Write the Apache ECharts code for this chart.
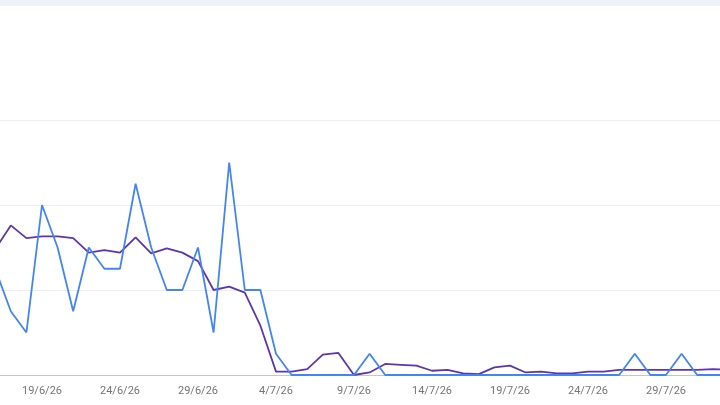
<!DOCTYPE html>
<html>
<head>
<meta charset="utf-8">
<script src="https://cdn.jsdelivr.net/npm/echarts@6/dist/echarts.min.js"></script>
<style>
  html, body { margin: 0; padding: 0; background: #fff; }
  #chart { width: 720px; height: 405px; }
</style>
</head>
<body>
<div id="chart"></div>
<script>
// days shown (16/6/26 .. 2/8/26), partly cut at both edges
var days = [
  '16/6/26','17/6/26','18/6/26','19/6/26','20/6/26','21/6/26','22/6/26','23/6/26',
  '24/6/26','25/6/26','26/6/26','27/6/26','28/6/26','29/6/26','30/6/26',
  '1/7/26','2/7/26','3/7/26','4/7/26','5/7/26','6/7/26','7/7/26','8/7/26',
  '9/7/26','10/7/26','11/7/26','12/7/26','13/7/26','14/7/26','15/7/26','16/7/26',
  '17/7/26','18/7/26','19/7/26','20/7/26','21/7/26','22/7/26','23/7/26','24/7/26',
  '25/7/26','26/7/26','27/7/26','28/7/26','29/7/26','30/7/26','31/7/26',
  '1/8/26','2/8/26'
];

// clicks (blue)
var clicks = [
  5, 3, 2, 8, 6, 3, 6, 5,
  5, 9, 6, 4, 4, 6, 2,
  10, 4, 4, 1, 0, 0, 0, 0,
  0, 1, 0, 0, 0, 0, 0, 0,
  0, 0, 0, 0, 0, 0, 0, 0,
  0, 0, 1, 0, 0, 1, 0,
  0, 0
];

// impressions (purple)
var impressions = [
  148, 176, 161, 163, 163, 161, 144, 147,
  144, 162, 143, 149, 144, 134, 100,
  104, 97, 58, 4, 4, 7, 24, 26,
  0, 3, 13, 12, 11, 5, 6, 2,
  1, 9, 11, 3, 4, 2, 2, 4,
  4, 6, 6, 6, 6, 6, 6,
  7, 6
];

var myChart = echarts.init(document.getElementById('chart'));

var option = {
  backgroundColor: '#ffffff',
  animation: false,
  graphic: [{
    type: 'rect',
    left: 0,
    top: 0,
    shape: { width: 720, height: 6 },
    style: { fill: '#eef3f8' }
  }],
  grid: {
    left: -4.8,
    right: -8.4,
    top: 120,
    bottom: 30,
    outerBoundsMode: 'none'
  },
  xAxis: {
    type: 'category',
    data: days,
    boundaryGap: false,
    axisLine: { show: true, lineStyle: { color: '#c6c6c6', width: 1 } },
    axisTick: { show: false },
    axisLabel: {
      interval: function (index) { return index % 5 === 3; },
      color: '#757575',
      fontFamily: 'Roboto',
      fontSize: 11,
      margin: 11
    },
    splitLine: { show: false }
  },
  yAxis: [{
    type: 'value',
    min: 0,
    max: 12,
    interval: 4,
    axisLine: { show: false },
    axisTick: { show: false },
    axisLabel: { show: false },
    splitLine: { show: true, lineStyle: { color: '#eeeeee', width: 1 } }
  }, {
    type: 'value',
    min: 0,
    max: 300,
    interval: 100,
    axisLine: { show: false },
    axisTick: { show: false },
    axisLabel: { show: false },
    splitLine: { show: false }
  }],
  series: [{
    name: 'Impressions',
    type: 'line',
    yAxisIndex: 1,
    data: impressions,
    symbol: 'none',
    lineStyle: { color: '#5e35b1', width: 1.8 },
    z: 2
  }, {
    name: 'Clicks',
    type: 'line',
    yAxisIndex: 0,
    data: clicks,
    symbol: 'none',
    lineStyle: { color: '#4285f4', width: 1.8 },
    z: 3
  }]
};

myChart.setOption(option);
</script>
</body>
</html>
